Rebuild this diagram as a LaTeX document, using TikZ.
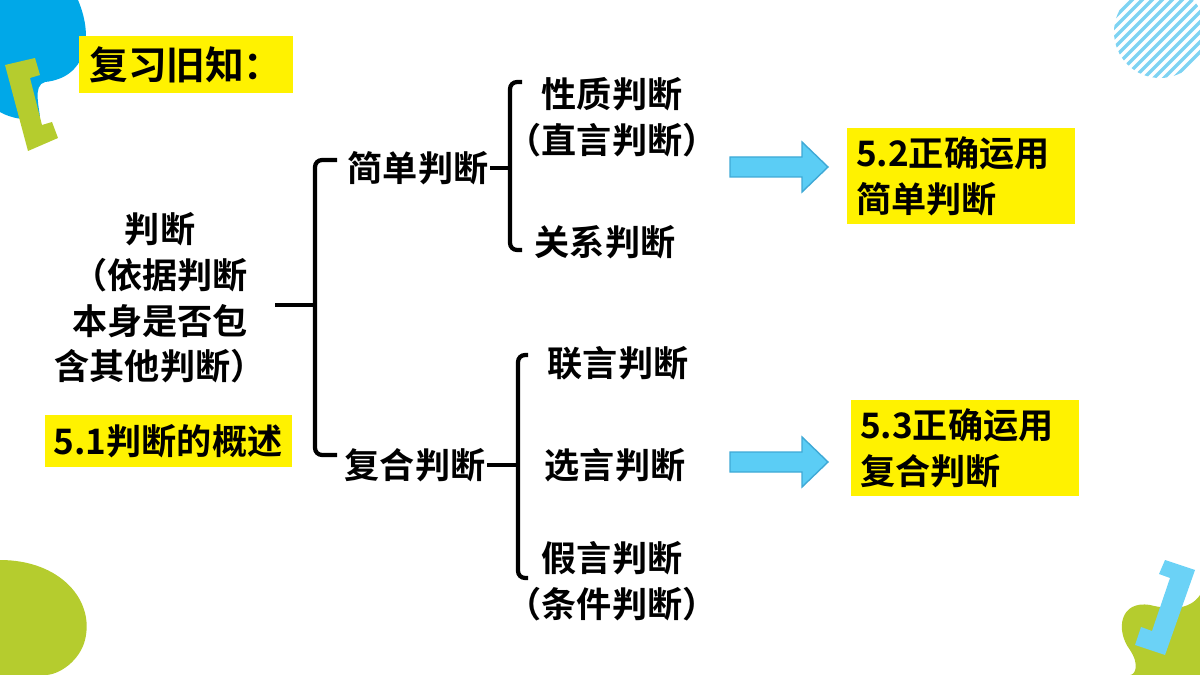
\documentclass[tikz,border=0pt]{standalone}
\usepackage{fontspec}
\setmainfont{Noto Sans CJK SC}[BoldFont={Noto Sans CJK SC Bold}]
\usetikzlibrary{positioning,patterns}
\definecolor{skyblue}{HTML}{00A8E8}
\definecolor{lime}{HTML}{B5CC2E}
\definecolor{arrowblue}{HTML}{5BCDF5}
\definecolor{arrowedge}{HTML}{3FA9D6}
\definecolor{hatch}{HTML}{7FD3F2}
\tikzset{
  txt/.style={font=\fontsize{20}{26}\selectfont\bfseries, inner sep=1pt},
  tag/.style={txt, fill=yellow, inner sep=5pt},
  brace/.style={line width=2.4pt, rounded corners=4pt},
  blockarrow/.style={fill=arrowblue, draw=arrowedge, line width=0.8pt}
}
\begin{document}
\begin{tikzpicture}[x=0.02cm,y=-0.02cm]
    \useasboundingbox (0,0) rectangle (1200,675);

    % corner decorations
    \fill[skyblue] (0,0) -- (78,0) .. controls (95,40) and (85,78) .. (45,82)
      .. controls (32,85) and (40,110) .. (40,118) .. controls (20,122) and (5,115) .. (0,112) -- cycle;
    \fill[lime] (5,65) -- (35,58) -- (40,75) -- (30,78) -- (42,125) -- (52,122) -- (58,138) -- (28,151) -- cycle;
    \begin{scope}
      \clip (1160,32) circle (46);
      \foreach \k in {-100,-90,...,100}
        \draw[hatch, line width=2pt] (1160+\k-50,82) -- (1160+\k+50,-18);
    \end{scope}
    \fill[lime] (0,560) .. controls (60,560) and (95,600) .. (85,640)
      .. controls (80,660) and (60,675) .. (45,675) -- (0,675) -- cycle;
    \fill[lime] (1200,595) .. controls (1190,610) and (1170,610) .. (1150,605)
      .. controls (1120,600) and (1115,630) .. (1130,650)
      .. controls (1140,665) and (1135,675) .. (1130,675) -- (1200,675) -- cycle;
    \fill[arrowblue!90] (1165,560) -- (1195,570) -- (1165,655) -- (1135,645) -- (1141,627) -- (1152,631) -- (1170,578) -- (1159,574) -- cycle;

    % tags
    \node[tag, font=\fontsize{22}{26}\selectfont\bfseries, minimum width=214*0.02cm, minimum height=57*0.02cm] (review) at (186,65) {复习旧知：};
    \node[tag, minimum width=247*0.02cm, minimum height=47*0.02cm] (intro) at (168,441) {5.1判断的概述};
    \node[tag, align=left, minimum width=227*0.02cm, minimum height=92*0.02cm, text width=210*0.02cm] (simpleref) at (961,176) {5.2正确运用\\简单判断};
    \node[tag, align=left, minimum width=226*0.02cm, minimum height=90*0.02cm, text width=210*0.02cm] (compref) at (965,448) {5.3正确运用\\复合判断};

    % terms
    \node[txt, align=center] (judge) at (160,298) {判断\\（依据判断\\本身是否包\\含其他判断）};
    \node[txt] (simple) at (418,168) {简单判断};
    \node[txt] (compound) at (415,465) {复合判断};
    \node[txt, align=center] (nature) at (612,117) {性质判断\\（直言判断）};
    \node[txt] (relation) at (605,242) {关系判断};
    \node[txt] (conj) at (618,363) {联言判断};
    \node[txt] (disj) at (615,465) {选言判断};
    \node[txt, align=center] (hypo) at (612,581) {假言判断\\（条件判断）};

    % braces
    \coordinate (b1) at (315,305);
    \draw[brace] (275,305) -- (b1);
    \draw[brace] (337,160) -- (315,160) -- (315,455) -- (337,455);
    \draw[brace] (simple.east) -- (510,168);
    \draw[brace] (522,82) -- (510,82) -- (510,250) -- (522,250);
    \draw[brace] (compound.east) -- (518,465);
    \draw[brace] (528,355) -- (518,355) -- (518,578) -- (528,578);

    % arrows
    \draw[blockarrow] (730,157) -- (802,157) -- (802,142) -- (828,167) -- (802,192) -- (802,177) -- (730,177) -- cycle;
    \draw[blockarrow] (730,452) -- (802,452) -- (802,437) -- (828,462) -- (802,487) -- (802,472) -- (730,472) -- cycle;
\end{tikzpicture}
\end{document}
